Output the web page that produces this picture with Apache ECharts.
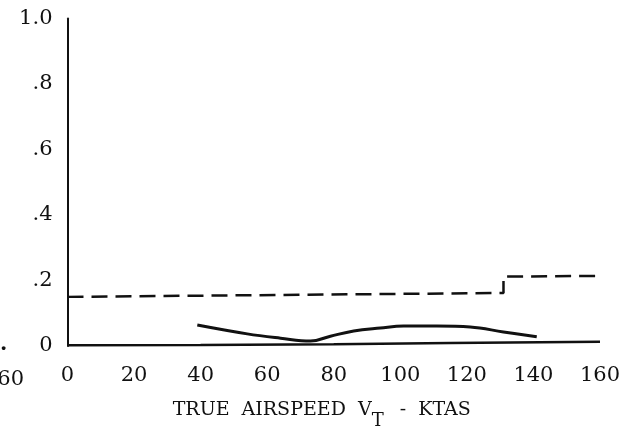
<!DOCTYPE html>
<html>
<head>
<meta charset="utf-8">
<script src="https://cdn.jsdelivr.net/npm/echarts@6/dist/echarts.min.js"></script>
<style>html,body{margin:0;padding:0;background:#fff}#c{width:630px;height:439px}</style>
</head>
<body>
<div id="c"></div>
<script>
// Data
var xTicks = [0, 20, 40, 60, 80, 100, 120, 140, 160];
var yTickLabels = {"0": "0", "0.2": ".2", "0.4": ".4", "0.6": ".6", "0.8": ".8", "1": "1.0"};
var dashedX = [0, 131, 131, 160];
var dashedY = [0.150, 0.162, 0.212, 0.214];
var curveX = [39, 54, 64, 73, 79, 86, 94, 101, 111, 121, 131, 141];
var curveY = [0.064, 0.037, 0.024, 0.015, 0.030, 0.046, 0.055, 0.061, 0.061, 0.058, 0.043, 0.028];
var baseX = [0, 40, 80, 115, 160];
var baseY = [0.002, 0.003, 0.005, 0.009, 0.013];
var xTitle = 'TRUE  AIRSPEED  V{sub|T}  -  KTAS';

function pairs(xs, ys) { return xs.map(function (x, i) { return [x, ys[i]]; }); }

var font = '"DejaVu Serif", "Liberation Serif", serif';
var chart = echarts.init(document.getElementById('c'), null, {renderer: 'canvas'});
chart.setOption({
  animation: false,
  backgroundColor: '#fff',
  grid: {left: 67.5, right: 30, top: 18.5, bottom: 93, containLabel: false, outerBoundsMode: 'none'},
  xAxis: {
    type: 'value', min: 0, max: 160, interval: 20,
    axisLine: {show: false},
    axisTick: {show: false},
    splitLine: {show: false},
    axisLabel: {margin: 19, color: '#111', fontFamily: font, fontSize: 21,
      formatter: function (v) { return xTicks.indexOf(v) >= 0 ? String(v) : ''; }},
    name: xTitle,
    nameLocation: 'middle',
    nameGap: 44,
    nameTextStyle: {color: '#111', fontFamily: font, fontSize: 19, padding: [0, 24, 0, 0],
      rich: {sub: {fontFamily: font, fontSize: 18, color: '#111', padding: [22, 4, 0, 0]}}}
  },
  yAxis: {
    type: 'value', min: 0, max: 1, interval: 0.2,
    axisLine: {show: true, lineStyle: {color: '#111', width: 2}},
    axisTick: {show: false},
    splitLine: {show: false},
    axisLabel: {margin: 15, color: '#111', fontFamily: font, fontSize: 21,
      formatter: function (v) { var k = String(Math.round(v * 10) / 10); return yTickLabels[k] || ''; }}
  },
  graphic: [
    {type: 'text', left: -16, top: 369, style: {text: '160', font: '21px ' + font, fill: '#111'}},
    {type: 'text', left: 0, top: 334, style: {text: '.', font: 'bold 21px ' + font, fill: '#111'}}
  ],
  series: [
    {type: 'line', data: pairs(baseX, baseY), symbol: 'none', smooth: false,
      lineStyle: {color: '#111', width: 2.5}},
    {type: 'line', data: pairs(dashedX, dashedY), symbol: 'none',
      lineStyle: {color: '#111', width: 2.5, type: [16, 8]}},
    {type: 'line', data: pairs(curveX, curveY), symbol: 'none', smooth: 0.4,
      lineStyle: {color: '#111', width: 3}}
  ]
});
</script>
</body>
</html>
